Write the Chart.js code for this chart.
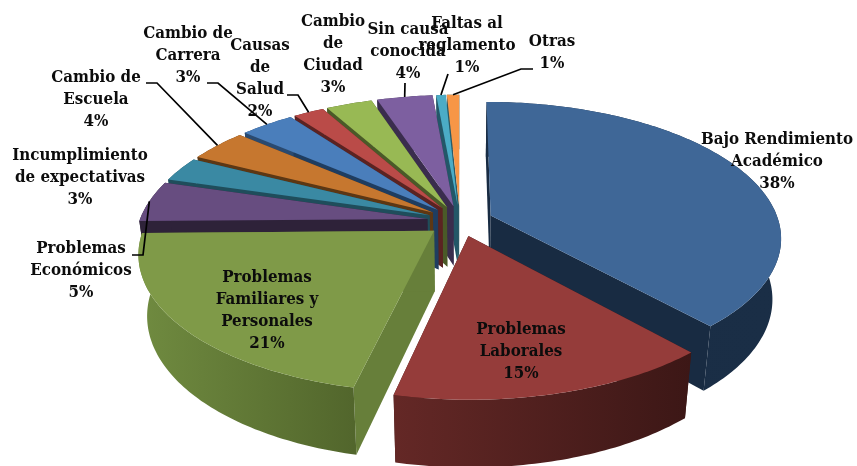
<!DOCTYPE html>
<html>
<head>
<meta charset="utf-8">
<style>html,body{margin:0;padding:0;background:#fff}canvas{display:block}</style>
<script src="https://cdn.jsdelivr.net/npm/chart.js@4"></script>
</head>
<body>
<canvas id="c" width="857" height="466"></canvas>
<script>
// ---- data ----
const categories = ['Bajo Rendimiento Académico','Problemas Laborales','Problemas Familiares y Personales','Problemas Económicos','Incumplimiento de expectativas','Cambio de Escuela','Cambio de Carrera','Causas de Salud','Cambio de Ciudad','Sin causa conocida','Faltas al reglamento','Otras'];
const values = [38,15,21,4.8,2.9,3.8,3.5,2,3,3.6,0.6,0.8];
const percentLabels = ['38%','15%','21%','5%','3%','4%','3%','2%','3%','4%','1%','1%'];
const labelLines = [['Bajo Rendimiento','Académico'],['Problemas','Laborales'],['Problemas','Familiares y','Personales'],['Problemas','Económicos'],['Incumplimiento','de expectativas'],['Cambio de','Escuela'],['Cambio de','Carrera'],['Causas','de','Salud'],['Cambio','de','Ciudad'],['Sin causa','conocida'],['Faltas al','reglamento'],['Otras']];
// ---- styles ----
const topColors  = ['#3F6797','#953C3A','#7F9A48','#674D80','#3A89A3','#C6772F','#4A7EBB','#BA4B48','#98B954','#7D5FA0','#4BACC6','#F79646'];
const wallFrom   = ['#192D45','#642826','#708B40','#2E2239','#1F4D5B','#5C3714','#2A4A70','#5B2322','#4A5A28','#3A2D4D','#235768','#2A5A66'];
const wallTo     = ['#1A2E46','#3C1716','#52662C','#2E2239','#1F4D5B','#5C3714','#2A4A70','#5B2322','#4A5A28','#3A2D4D','#235768','#2A5A66'];
const sideColors = ['#182B42','#3C1716','#677F3A','#2E2239','#1F4D5B','#5C3714','#1F3D60','#5B2322','#4A5A28','#3A2D4D','#235768','#2A5A66'];
// ---- label layout: centre x, first line y, line height ----
const labelPos = [[777,140],[521,330],[267,278],[81,249],[80,156],[96,78],[188,34],[260,46],[333,22],[408,30],[467,24],[552,42]];
const lineHeight = 21.8;
// leader elbows next to the label; the far end is found on the slice rim
const leaderElbows = {3:[[132,255],[143,255]],5:[[146,83],[157,83]],6:[[207,83],[218,83]],7:[[287,95],[298,95]],9:[[405,83]],10:[[448,74]],11:[[533,69],[521,69]]};
// ---- view ----
const view = { radius:288, offset:132, squash:133/288, persp:0.156, depth:60, bottomScale:0.973 };

function project(el, X, Y, bottom){
  const R = el.outerRadius;
  const w = 1/(1 - view.persp*Y/R);
  const s = bottom ? view.bottomScale : 1;
  return [el.x + X*w*s, el.y + Y*view.squash*w*s + (bottom ? view.depth*w : 0)];
}
function slicePoint(el, angle, r, bottom){
  const mid = (el.startAngle + el.endAngle)/2;
  const e = el.options.offset/4;
  return project(el, Math.cos(mid)*e + Math.cos(angle)*r, Math.sin(mid)*e + Math.sin(angle)*r, bottom);
}
function fillPoly(ctx, pts, fill){
  ctx.beginPath();
  pts.forEach((p,i)=> i ? ctx.lineTo(p[0],p[1]) : ctx.moveTo(p[0],p[1]));
  ctx.closePath();
  ctx.fillStyle = fill;
  ctx.fill();
}
const pie3d = {
  id:'pie3d',
  beforeDatasetDraw(chart, args){
    const ctx = chart.ctx;
    const arcs = chart.getDatasetMeta(args.index).data;
    const order = arcs.map((el,i)=>i).sort((a,b)=>
      Math.sin((arcs[a].startAngle+arcs[a].endAngle)/2) - Math.sin((arcs[b].startAngle+arcs[b].endAngle)/2));
    order.forEach(i=>{
      const el = arcs[i], R = el.outerRadius, a0 = el.startAngle, a1 = el.endAngle;
      const n = Math.max(2, Math.ceil((a1-a0)/(Math.PI/180)));
      const topRim = [], botRim = [];
      for(let k=0;k<=n;k++){
        const a = a0 + (a1-a0)*k/n;
        topRim.push(slicePoint(el,a,R,false));
        botRim.push(slicePoint(el,a,R,true));
      }
      const apexT = slicePoint(el,0,0,false), apexB = slicePoint(el,0,0,true);
      fillPoly(ctx,[apexT,topRim[0],botRim[0],apexB],sideColors[i]);
      fillPoly(ctx,[apexT,topRim[n],botRim[n],apexB],sideColors[i]);
      const xs = topRim.map(p=>p[0]);
      const g = ctx.createLinearGradient(Math.min(...xs),0,Math.max(...xs),0);
      g.addColorStop(0,wallFrom[i]); g.addColorStop(1,wallTo[i]);
      fillPoly(ctx,topRim.concat(botRim.slice().reverse()),g);
      fillPoly(ctx,[apexT].concat(topRim),el.options.backgroundColor);
    });
    return false;
  },
  afterDraw(chart){
    const ctx = chart.ctx;
    const arcs = chart.getDatasetMeta(0).data;
    ctx.save();
    ctx.strokeStyle = '#000'; ctx.lineWidth = 1.7; ctx.lineJoin='miter';
    Object.keys(leaderElbows).forEach(k=>{
      const el = arcs[k], end = slicePoint(el,(el.startAngle+el.endAngle)/2,el.outerRadius,false);
      const pts = leaderElbows[k].concat([end]);
      ctx.beginPath();
      pts.forEach((p,i)=> i ? ctx.lineTo(p[0],p[1]) : ctx.moveTo(p[0],p[1]));
      ctx.stroke();
    });
    ctx.fillStyle = '#0c0c0c';
    ctx.font = 'bold 16.8px "DejaVu Serif Condensed","DejaVu Serif"';
    ctx.textAlign='center'; ctx.textBaseline='middle';
    labelLines.forEach((lines,i)=>{
      lines.concat([percentLabels[i]]).forEach((t,j)=>{
        ctx.fillText(t,labelPos[i][0],labelPos[i][1]+j*lineHeight);
      });
    });
    ctx.restore();
  }
};
new Chart(document.getElementById('c'),{
  type:'pie',
  data:{labels:categories,datasets:[{data:values,backgroundColor:topColors,borderWidth:0,offset:view.offset,clip:false}]},
  options:{
    responsive:false,animation:false,radius:view.radius,rotation:0,
    layout:{padding:{left:63,bottom:24}},
    plugins:{legend:{display:false},tooltip:{enabled:false}}
  },
  plugins:[pie3d]
});
</script>
</body>
</html>
